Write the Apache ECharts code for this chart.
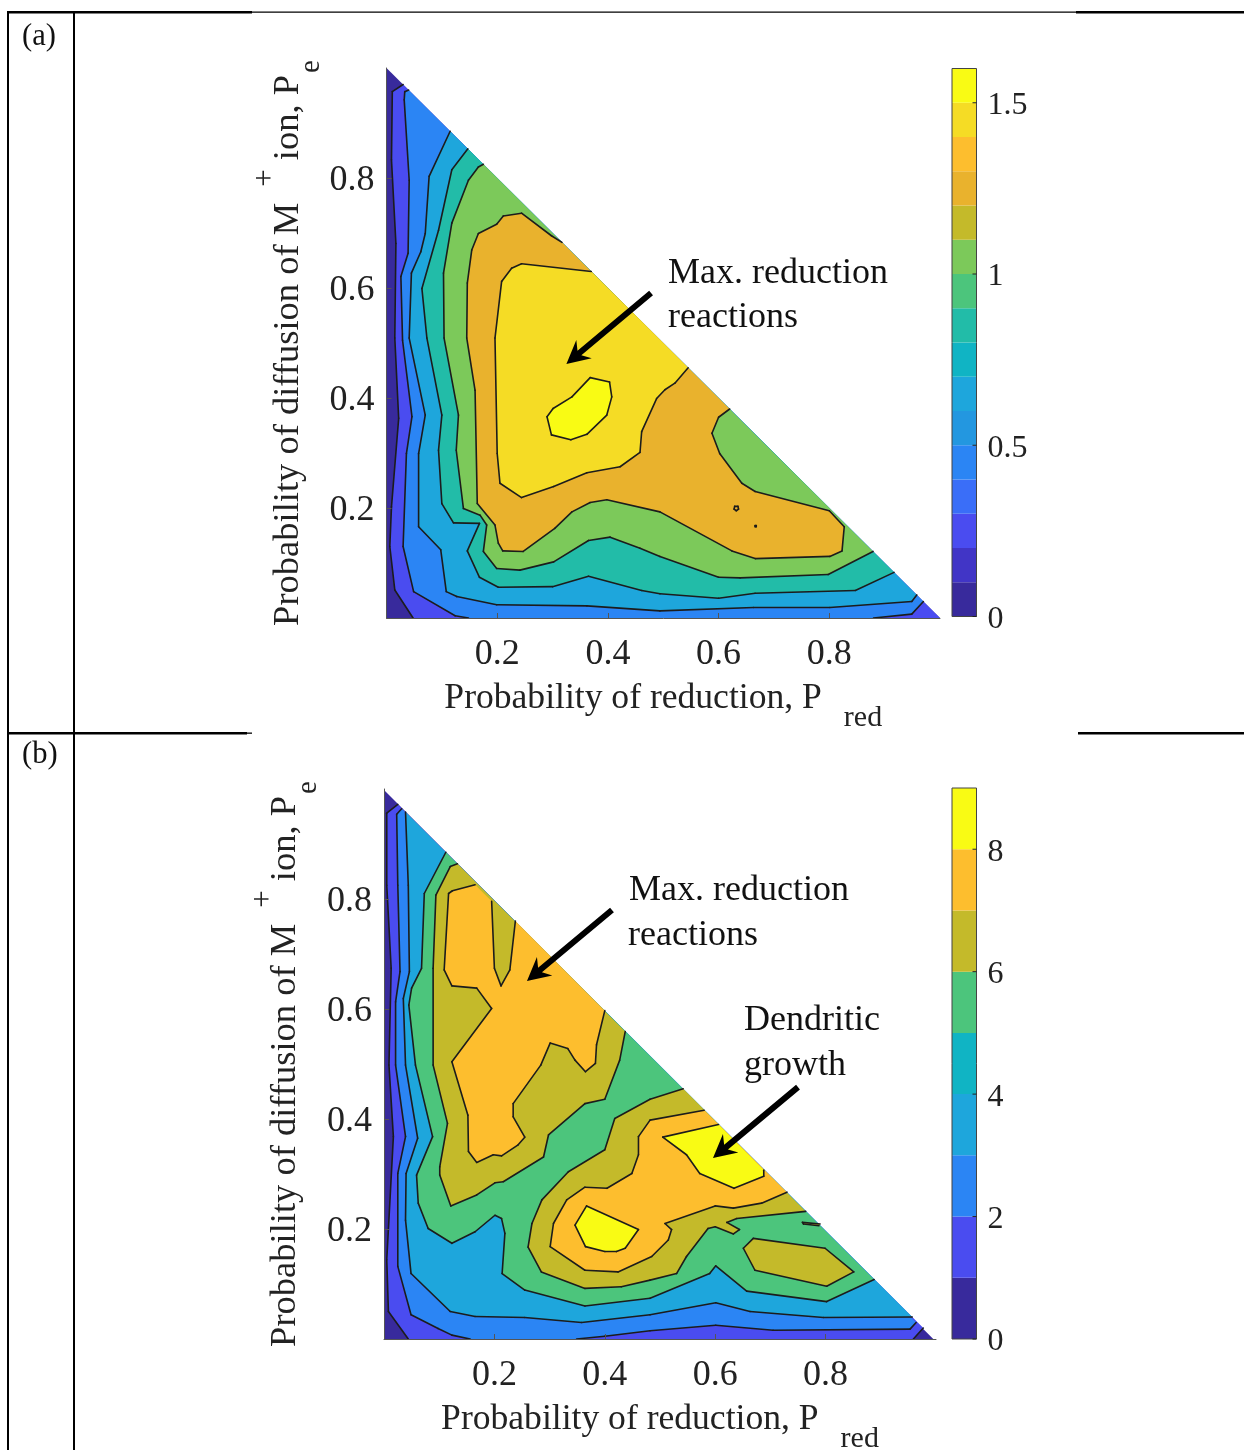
<!DOCTYPE html>
<html>
<head>
<meta charset="utf-8">
<style>html,body{margin:0;padding:0;background:#fff}#main{width:1244px;height:1450px}</style>
<script src="https://cdn.jsdelivr.net/npm/echarts@6/dist/echarts.min.js"></script>
</head>
<body>
<div id="main"></div>
<script>
// stepped colormap shared by both panels
const colors = ['#382a9c','#4135c6','#4a4cf0','#3a6ef8','#2b85f4','#2397e0','#1ea6dc','#10b4c4',
  '#22bca8','#4cc57c','#7cc95a','#c4ba2a','#e9b22d','#fdbe2e','#f5dc25','#f9fb14']

// colorbars
const cbarAEdges = [0,0.1,0.2,0.3,0.4,0.5,0.6,0.7,0.8,0.9,1,1.1,1.2,1.3,1.4,1.5,1.6]
const cbarAColors = [0,1,2,3,4,5,6,7,8,9,10,11,12,13,14,15]
const cbarATicks = [0,0.5,1,1.5]
const cbarBEdges = [0,1,2,3,4,5,6,7,8,9]
const cbarBColors = [0,2,4,6,7,9,11,13,15]
const cbarBTicks = [0,2,4,6,8]
const axisTicks = [0.2,0.4,0.6,0.8]

// panel (a) filled regions, [Pred, Pe], painted lowest level first
const aBase = [[0,1],[0,0],[1,0]]
const a02 = [[0.03,0.97],[0.0105,0.957],[0.009,0.833],[0.017,0.681],[0.015,0.509],[0.022,0.363],[0.009,0.202],[0.006,0.13],[0.015,0.051],[0.048,0],[1,0]]
const a04 = [[0.04,0.96],[0.033,0.957],[0.032,0.942],[0.041,0.796],[0.039,0.663],[0.026,0.621],[0.029,0.505],[0.046,0.366],[0.036,0.299],[0.03,0.13],[0.049,0.048],[0.124,0.004],[0.148,0],[0.88,0],[0.949,0.007],[0.97,0.03]]
const a06 = [[0.115,0.885],[0.077,0.803],[0.07,0.699],[0.062,0.666],[0.045,0.627],[0.041,0.509],[0.07,0.369],[0.058,0.299],[0.058,0.166],[0.098,0.124],[0.108,0.048],[0.127,0.039],[0.199,0.024],[0.362,0.022],[0.494,0.013],[0.663,0.019],[0.801,0.019],[0.949,0.03],[0.958,0.042]]
const a08 = [[0.147,0.853],[0.118,0.815],[0.094,0.705],[0.064,0.599],[0.073,0.509],[0.1,0.369],[0.094,0.305],[0.1,0.208],[0.121,0.173],[0.168,0.172],[0.146,0.122],[0.168,0.074],[0.202,0.056],[0.3,0.057],[0.365,0.076],[0.461,0.05],[0.494,0.044],[0.6,0.036],[0.666,0.045],[0.847,0.05],[0.917,0.083]]
const a10 = [[0.175,0.825],[0.166,0.82],[0.148,0.796],[0.118,0.718],[0.103,0.627],[0.104,0.509],[0.13,0.369],[0.126,0.305],[0.139,0.199],[0.169,0.187],[0.181,0.169],[0.175,0.121],[0.199,0.09],[0.241,0.087],[0.302,0.102],[0.365,0.141],[0.404,0.147],[0.458,0.127],[0.494,0.112],[0.6,0.074],[0.639,0.073],[0.798,0.079],[0.879,0.121]]
const a12 = [[0.317,0.683],[0.298,0.695],[0.244,0.736],[0.211,0.731],[0.199,0.716],[0.166,0.699],[0.154,0.669],[0.146,0.609],[0.145,0.509],[0.16,0.414],[0.164,0.208],[0.196,0.169],[0.202,0.136],[0.21,0.122],[0.247,0.121],[0.304,0.163],[0.335,0.193],[0.368,0.21],[0.398,0.215],[0.494,0.193],[0.624,0.122],[0.666,0.108],[0.801,0.112],[0.823,0.122],[0.827,0.166],[0.8,0.195],[0.666,0.23],[0.642,0.245],[0.602,0.299],[0.588,0.336],[0.6,0.365],[0.62,0.38]]
const a14 = [[0.37,0.63],[0.244,0.644],[0.226,0.636],[0.208,0.612],[0.196,0.509],[0.2,0.299],[0.205,0.245],[0.244,0.219],[0.302,0.239],[0.362,0.264],[0.422,0.275],[0.458,0.301],[0.461,0.339],[0.488,0.399],[0.503,0.415],[0.521,0.427],[0.545,0.455]]
const a15 = [[0.368,0.437],[0.403,0.429],[0.407,0.402],[0.398,0.369],[0.362,0.334],[0.333,0.324],[0.298,0.333],[0.29,0.366],[0.301,0.381],[0.335,0.402]]
const aSpot1 = [[0.629,0.203],[0.635,0.203],[0.636,0.198],[0.632,0.195],[0.628,0.198]]
const aSpot2 = [[0.666,0.168],[0.668,0.168],[0.668,0.166],[0.666,0.166]]
const aRings = [aBase,a02,a04,a06,a08,a10,a12,a14,a15,aSpot1,aSpot2]
const aRingColors = [0,2,4,6,8,10,12,14,15,12,12]

// panel (b) filled regions
const bBase = [[0,0.998],[0,0],[0.995,0]]
const b1 = [[0.025,0.972],[0.005,0.956],[0.005,0.825],[0.013,0.674],[0.009,0.498],[0.017,0.368],[0.005,0.144],[0.008,0.05],[0.044,0],[0.959,0],[0.977,0.02]]
const b2 = [[0.032,0.964],[0.023,0.954],[0.025,0.825],[0.029,0.668],[0.021,0.613],[0.021,0.498],[0.039,0.368],[0.025,0.301],[0.025,0.132],[0.049,0.044],[0.098,0.019],[0.123,0.007],[0.156,0],[0.349,0],[0.4,0.005],[0.482,0.015],[0.601,0.025],[0.705,0.016],[0.953,0.018],[0.964,0.03]]
const b3 = [[0.039,0.958],[0.044,0.825],[0.046,0.668],[0.035,0.619],[0.039,0.498],[0.061,0.365],[0.04,0.301],[0.039,0.216],[0.049,0.119],[0.12,0.05],[0.165,0.041],[0.255,0.039],[0.358,0.03],[0.482,0.044],[0.601,0.066],[0.663,0.05],[0.796,0.039],[0.957,0.04]]
const b5 = [[0.112,0.885],[0.073,0.81],[0.068,0.674],[0.05,0.638],[0.045,0.607],[0.057,0.498],[0.088,0.368],[0.059,0.298],[0.062,0.247],[0.08,0.201],[0.123,0.174],[0.165,0.195],[0.201,0.225],[0.213,0.219],[0.219,0.192],[0.214,0.119],[0.255,0.089],[0.364,0.06],[0.482,0.074],[0.59,0.119],[0.601,0.133],[0.657,0.087],[0.802,0.068],[0.888,0.108]]
const b6Left = [[0.133,0.864],[0.12,0.859],[0.094,0.807],[0.089,0.674],[0.089,0.498],[0.115,0.392],[0.101,0.313],[0.101,0.298],[0.121,0.242],[0.168,0.262],[0.201,0.284],[0.216,0.286],[0.289,0.331],[0.298,0.371],[0.364,0.428],[0.4,0.436],[0.427,0.507],[0.437,0.559]]
const b6Right = [[0.542,0.455],[0.482,0.436],[0.418,0.401],[0.4,0.344],[0.334,0.304],[0.286,0.253],[0.268,0.21],[0.261,0.167],[0.285,0.122],[0.364,0.092],[0.43,0.095],[0.482,0.107],[0.53,0.119],[0.548,0.15],[0.587,0.201],[0.6,0.204],[0.633,0.191],[0.644,0.199],[0.621,0.212],[0.639,0.219],[0.764,0.232]]
const b6Island = [[0.669,0.183],[0.799,0.165],[0.851,0.122],[0.802,0.096],[0.672,0.125],[0.651,0.165]]
const b6Sliver = [[0.758,0.212],[0.79,0.209],[0.788,0.206],[0.76,0.209]]
const b7Left = [[0.165,0.826],[0.195,0.796],[0.2,0.674],[0.212,0.642],[0.228,0.671],[0.238,0.76],[0.4,0.597],[0.385,0.535],[0.383,0.501],[0.365,0.486],[0.346,0.507],[0.333,0.528],[0.301,0.538],[0.284,0.498],[0.234,0.428],[0.234,0.404],[0.255,0.367],[0.243,0.353],[0.213,0.333],[0.198,0.335],[0.168,0.321],[0.153,0.341],[0.152,0.407],[0.123,0.504],[0.195,0.601],[0.168,0.638],[0.123,0.642],[0.109,0.671],[0.117,0.81],[0.124,0.815]]
const b7Right = [[0.58,0.416],[0.482,0.398],[0.461,0.368],[0.461,0.335],[0.449,0.301],[0.404,0.274],[0.364,0.276],[0.331,0.253],[0.307,0.21],[0.301,0.168],[0.364,0.125],[0.424,0.122],[0.485,0.15],[0.515,0.18],[0.521,0.199],[0.509,0.21],[0.6,0.242],[0.633,0.238],[0.684,0.247],[0.73,0.267]]
const b8Left = [[0.367,0.242],[0.461,0.199],[0.437,0.165],[0.421,0.159],[0.4,0.159],[0.365,0.168],[0.346,0.207]]
const b8Right = [[0.505,0.367],[0.606,0.39],[0.688,0.307],[0.688,0.296],[0.634,0.274],[0.572,0.301],[0.548,0.335]]
const bRings = [bBase,b1,b2,b3,b5,b6Left,b6Right,b6Island,b6Sliver,b7Left,b7Right,b8Left,b8Right]
const bRingColors = [0,2,4,6,9,11,11,11,11,13,13,15,15]

// arrows: [tail, tip]
const aArrows = [[[0.478,0.591],[0.325,0.462]]]
const bArrows = [[[0.413,0.78],[0.259,0.651]],[[0.75,0.458],[0.596,0.329]]]

const serif = '"Liberation Serif","Times New Roman",serif'
const ink = '#222'
const chart = echarts.init(document.getElementById('main'))

function onBorder(p, q, sum) {
  if (p[1] === 0 && q[1] === 0) return true
  if (p[0] === 0 && q[0] === 0) return true
  return Math.abs(p[0] + p[1] - sum) < 0.0065 && Math.abs(q[0] + q[1] - sum) < 0.0065
}

function ringSeries(idx, rings, ringColors, sum) {
  return {
    type: 'custom', xAxisIndex: idx, yAxisIndex: idx, z: 2, silent: true,
    data: rings.map((r, i) => [i]),
    encode: { x: -1, y: -1 },
    renderItem(params, api) {
      const ring = rings[params.dataIndex]
      const pts = ring.map(p => api.coord(p))
      const children = [{ type: 'polygon', shape: { points: pts }, style: { fill: colors[ringColors[params.dataIndex]] } }]
      ring.forEach((p, i) => {
        const j = (i + 1) % ring.length
        if (onBorder(p, ring[j], sum)) return
        children.push({
          type: 'line',
          shape: { x1: pts[i][0], y1: pts[i][1], x2: pts[j][0], y2: pts[j][1] },
          style: { stroke: '#1c1c1c', lineWidth: 1.6, lineCap: 'round' }
        })
      })
      return { type: 'group', children }
    }
  }
}

function arrowSeries(idx, arrows) {
  return {
    type: 'custom', xAxisIndex: idx, yAxisIndex: idx, z: 4, silent: true,
    data: arrows.map((a, i) => [i]),
    encode: { x: -1, y: -1 },
    renderItem(params, api) {
      const a = arrows[params.dataIndex]
      const s = api.coord(a[0]), t = api.coord(a[1])
      const len = Math.hypot(t[0] - s[0], t[1] - s[1])
      const ux = (t[0] - s[0]) / len, uy = (t[1] - s[1]) / len
      const at = (back, side) => [t[0] - ux * back - uy * side, t[1] - uy * back + ux * side]
      return {
        type: 'polygon',
        shape: { points: [t, at(23, 12), at(17, 3), [s[0] - uy * 3, s[1] + ux * 3], [s[0] + uy * 3, s[1] - ux * 3], at(17, -3), at(23, -12)] },
        style: { fill: '#000' }
      }
    }
  }
}

function cbarSeries(idx, edges, bandColors, ticks) {
  return [{
    type: 'custom', xAxisIndex: idx, yAxisIndex: idx, z: 2, silent: true,
    data: bandColors.map((c, i) => [i]),
    encode: { x: -1, y: -1 },
    renderItem(params, api) {
      const i = params.dataIndex
      const lo = api.coord([0, edges[i]]), hi = api.coord([1, edges[i + 1]])
      return {
        type: 'rect',
        shape: { x: lo[0], y: hi[1], width: hi[0] - lo[0], height: lo[1] - hi[1] },
        style: { fill: colors[bandColors[i]] }
      }
    }
  }, {
    type: 'custom', xAxisIndex: idx, yAxisIndex: idx, z: 3, silent: true,
    data: [[0]],
    encode: { x: -1, y: -1 },
    renderItem(params, api) {
      const lo = api.coord([0, edges[0]]), hi = api.coord([1, edges[edges.length - 1]])
      const children = [{
        type: 'rect',
        shape: { x: lo[0], y: hi[1], width: hi[0] - lo[0], height: lo[1] - hi[1] },
        style: { fill: 'none', stroke: '#444', lineWidth: 1 }
      }]
      // ticks sit inside the bar on its right edge
      ticks.forEach(v => {
        const p = api.coord([1, v])
        children.push({ type: 'line', shape: { x1: p[0] - 4, y1: p[1], x2: p[0], y2: p[1] }, style: { stroke: '#222', lineWidth: 1 } })
      })
      return { type: 'group', children }
    }
  }]
}

const nameRichX = {
  m: { fontFamily: serif, fontSize: 35.6, color: ink, verticalAlign: 'top', lineHeight: 36 },
  s: { fontFamily: serif, fontSize: 30, color: ink, verticalAlign: 'bottom', lineHeight: 52, padding: [0, 0, 0, 22] }
}
const nameRichY = {
  m: { fontFamily: serif, fontSize: 36.5, color: ink, verticalAlign: 'middle', lineHeight: 75 },
  u: { fontFamily: serif, fontSize: 31, color: ink, verticalAlign: 'top', lineHeight: 75, padding: [0, 0, 0, 16] },
  s: { fontFamily: serif, fontSize: 29, color: ink, verticalAlign: 'bottom', lineHeight: 75, padding: [0, 0, 0, 2] }
}
const tickStyle = { fontFamily: serif, fontSize: 36, color: ink }
const lineStyle = { color: '#555', width: 1 }

function mainX(gridIndex, nameGap) {
  return {
    type: 'value', gridIndex, min: 0, max: 1, z: 6,
    name: '{m|Probability of reduction, P}{s|red}', nameLocation: 'middle', nameGap,
    nameTextStyle: { rich: nameRichX },
    axisLine: { show: true, lineStyle },
    axisTick: { show: true, inside: true, length: 5, lineStyle, customValues: axisTicks },
    axisLabel: { ...tickStyle, margin: 19, customValues: axisTicks, formatter: v => v.toFixed(1) },
    splitLine: { show: false }
  }
}
function mainY(gridIndex, nameGap) {
  return {
    type: 'value', gridIndex, min: 0, max: 1, z: 6,
    name: '{m|Probability of diffusion of M}{u|+}{m| ion, P}{s|e}', nameLocation: 'middle', nameGap,
    nameTextStyle: { rich: nameRichY },
    axisLine: { show: true, lineStyle },
    axisTick: { show: true, inside: true, length: 5, lineStyle, customValues: axisTicks },
    axisLabel: {
      margin: 12, customValues: axisTicks,
      formatter: v => '{t|' + v.toFixed(1) + '}',
      rich: { t: { ...tickStyle, padding: [6, 0, 0, 0] } }
    },
    splitLine: { show: false }
  }
}
function cbarX(gridIndex) {
  return { type: 'value', gridIndex, min: 0, max: 1, show: false }
}
function cbarY(gridIndex, max, ticks) {
  return {
    type: 'value', gridIndex, min: 0, max, position: 'right', z: 6,
    axisLine: { show: false },
    axisTick: { show: false },
    axisLabel: {
      margin: 11, customValues: ticks,
      formatter: v => '{t|' + v + '}',
      rich: { t: { ...tickStyle, fontSize: 32, padding: [6, 0, 0, 0] } }
    },
    splitLine: { show: false }
  }
}

function rule(x, y, w, h) {
  return { type: 'rect', shape: { x, y, width: w, height: h }, style: { fill: '#000' }, silent: true }
}
function note(text, x, y, size) {
  return { type: 'text', x, y, silent: true, style: { text, fill: '#111', font: (size || 36) + 'px ' + serif } }
}

chart.setOption({
  animation: false,
  backgroundColor: '#fff',
  grid: [
    { left: 386.5, top: 68, width: 553.5, height: 550, outerBoundsMode: 'none' },
    { left: 384, top: 789, width: 552, height: 550, outerBoundsMode: 'none' },
    { left: 952, top: 68.5, width: 24.5, height: 548, outerBoundsMode: 'none' },
    { left: 952, top: 788, width: 24.5, height: 551, outerBoundsMode: 'none' }
  ],
  xAxis: [mainX(0, 63), mainX(1, 63), cbarX(2), cbarX(3)],
  yAxis: [mainY(0, 61), mainY(1, 61), cbarY(2, 1.6, cbarATicks), cbarY(3, 9, cbarBTicks)],
  series: [
    ringSeries(0, aRings, aRingColors, 1),
    arrowSeries(0, aArrows),
    ringSeries(1, bRings, bRingColors, 0.997),
    arrowSeries(1, bArrows),
    ...cbarSeries(2, cbarAEdges, cbarAColors, cbarATicks),
    ...cbarSeries(3, cbarBEdges, cbarBColors, cbarBTicks)
  ],
  graphic: { elements: [
    // table rules of the surrounding document
    rule(7, 11, 245, 2.4), rule(252, 11.4, 824, 1.3), rule(1076, 11, 168, 2.4),
    rule(7, 732, 240, 2.4), rule(247, 732.5, 5, 1.3), rule(1078, 732, 166, 2.4),
    rule(7, 11, 2, 1439), rule(73, 11, 2, 1439),
    note('(a)', 22, 21, 30.6), note('(b)', 22, 739, 30.6),
    note('Max. reduction', 668, 256), note('reactions', 668, 300),
    note('Max. reduction', 629, 873), note('reactions', 628, 918),
    note('Dendritic', 744, 1003), note('growth', 744, 1048)
  ] }
})
</script>
</body>
</html>
